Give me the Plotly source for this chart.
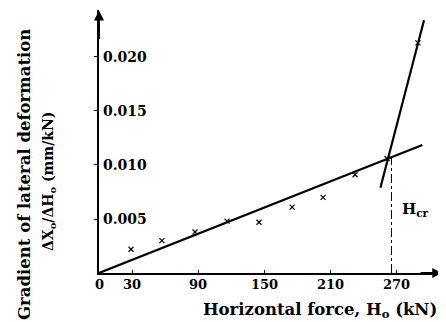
import plotly.graph_objects as go

# Measured data (markers)
force_kN = [29, 57, 87, 116, 145, 175, 203, 232, 261, 289]
gradient = [0.0022, 0.0030, 0.0038, 0.0048, 0.0047, 0.0061, 0.0070, 0.0091, 0.0106, 0.0213]

# Fitted lines
fit1_x = [0, 293]
fit1_y = [0, 0.01185]
fit2_x = [255, 294.5]
fit2_y = [0.0079, 0.0234]

# Critical force
h_cr = 265
h_cr_y = 0.0107

x_tickvals = [0, 30, 90, 150, 210, 270]
x_ticktext = ["0", "30", "90", "150", "210", "270"]
y_tickvals = [0.005, 0.010, 0.015, 0.020]
y_ticktext = ["0.005", "0.010", "0.015", "0.020"]

FONT = "DejaVu Serif"
# page has an 8px body margin; figure is sized to compensate
OFF = 8
W, H = 446 - OFF, 322 - OFF
PL, PR, PT, PB = 99 - OFF, 443 - OFF, 10 - OFF, 273 - OFF  # plot area in figure px
PW, PH = PR - PL, PB - PT


def px(xp):
    return (xp - OFF - PL) / PW


def py(yp):
    return (PB - (yp - OFF)) / PH


fig = go.Figure()

fig.add_trace(go.Scatter(x=fit1_x, y=fit1_y, mode="lines",
                         line=dict(color="black", width=2.2), showlegend=False))
fig.add_trace(go.Scatter(x=fit2_x, y=fit2_y, mode="lines",
                         line=dict(color="black", width=2.2), showlegend=False))
fig.add_trace(go.Scatter(x=[h_cr, h_cr], y=[0, h_cr_y], mode="lines",
                         line=dict(color="black", width=1, dash="dashdot"), showlegend=False))
fig.add_trace(go.Scatter(x=force_kN, y=gradient, mode="markers",
                         marker=dict(symbol="x-thin", size=5, line=dict(color="black", width=1.2)),
                         showlegend=False))

# axis arrows
fig.add_annotation(x=0, y=0.0243, ax=0, ay=0.0215, xref="x", yref="y", axref="x", ayref="y",
                   showarrow=True, arrowhead=2, arrowsize=1, arrowwidth=2, arrowcolor="black", text="")
fig.add_annotation(x=311, y=0, ax=290, ay=0, xref="x", yref="y", axref="x", ayref="y",
                   showarrow=True, arrowhead=2, arrowsize=1, arrowwidth=2, arrowcolor="black", text="")

# tick labels (drawn as annotations so none get hidden at the corner)
for v, t in zip(x_tickvals, x_ticktext):
    fig.add_annotation(x=v, y=0, xref="x", yref="y", text="<b>" + t + "</b>", showarrow=False,
                       xanchor="center", yanchor="middle", yshift=-11,
                       font=dict(family=FONT, size=13, color="black"))
for v, t in zip(y_tickvals, y_ticktext):
    fig.add_annotation(x=0, y=v, xref="x", yref="y", text="<b>" + t + "</b>", showarrow=False,
                       xanchor="left", yanchor="middle", xshift=2,
                       font=dict(family=FONT, size=14, color="black"))

fig.add_annotation(x=287, y=0.0059, xref="x", yref="y", text="<b>H<sub>cr</sub></b>",
                   showarrow=False, font=dict(family=FONT, size=15, color="black"))

# axis titles
fig.add_annotation(x=px(320), y=py(310), xref="paper", yref="paper", xanchor="center", yanchor="middle",
                   text="<b>Horizontal force, H<sub>o</sub> (kN)</b>", showarrow=False,
                   font=dict(family=FONT, size=16.5, color="black"))
fig.add_annotation(x=px(25), y=py(175), xref="paper", yref="paper", xanchor="center", yanchor="middle",
                   text="<b>Gradient of lateral deformation</b>", showarrow=False, textangle=-90,
                   font=dict(family=FONT, size=16.5, color="black"))
fig.add_annotation(x=px(49), y=py(182), xref="paper", yref="paper", xanchor="center", yanchor="middle",
                   text="<b>ΔX<sub>o</sub>/ΔH<sub>o</sub> (mm/kN)</b>", showarrow=False, textangle=-90,
                   font=dict(family=FONT, size=14, color="black"))

fig.update_layout(
    width=W, height=H,
    margin=dict(l=PL, r=W - PR, t=PT, b=H - PB, autoexpand=False),
    paper_bgcolor="white", plot_bgcolor="white",
    font=dict(family=FONT, color="black"),
)
fig.update_xaxes(range=[0, 311.7], tickvals=x_tickvals, showticklabels=False,
                 showgrid=False, zeroline=False,
                 showline=True, linecolor="black", linewidth=2, ticks="inside", ticklen=3,
                 tickcolor="black")
fig.update_yaxes(range=[0, 0.02435], tickvals=y_tickvals, showticklabels=False,
                 showgrid=False, zeroline=False, showline=True, linecolor="black", linewidth=2,
                 ticks="outside", ticklen=3, tickcolor="black")

fig.write_html("out.html")
